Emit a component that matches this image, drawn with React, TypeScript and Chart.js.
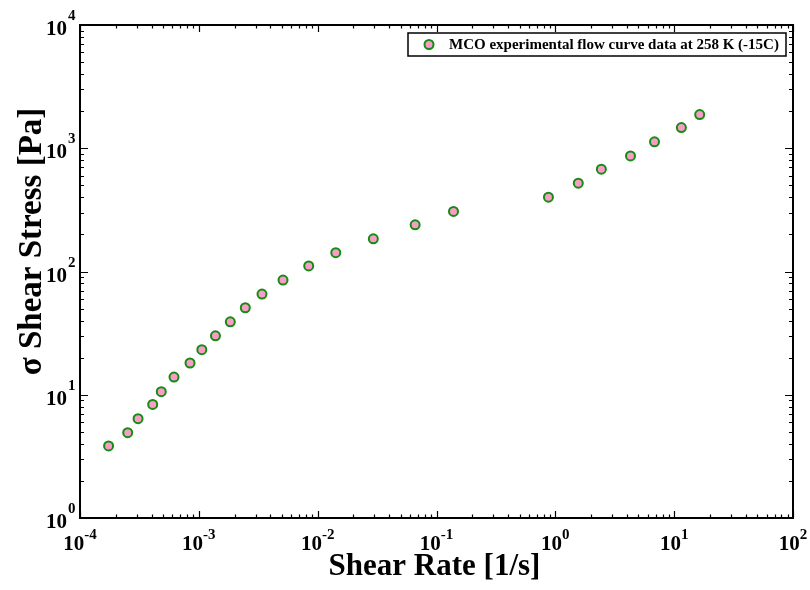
import React, { useEffect, useRef } from 'react';
import { Chart, registerables } from 'chart.js';

Chart.register(...registerables);

// ---- data ----
const shearRate = [
  1.74e-4, 2.52e-4, 3.08e-4, 4.09e-4, 4.83e-4, 6.18e-4, 8.43e-4, 1.06e-3, 1.38e-3,
  1.84e-3, 2.46e-3, 3.4e-3, 5.11e-3, 8.41e-3, 1.42e-2, 2.94e-2, 6.61e-2, 0.139,
  0.875, 1.56, 2.44, 4.29, 6.83, 11.5, 16.4,
];
const shearStress = [
  3.84, 4.92, 6.39, 8.34, 10.6, 13.9, 18.1, 23.2, 30.1, 39.1, 50.8, 65.6, 85.2, 111,
  142, 184, 239, 307, 401, 521, 677, 867, 1127, 1472, 1876,
];
const xTickExponents = [-4, -3, -2, -1, 0, 1, 2];
const yTickExponents = [0, 1, 2, 3, 4];
const seriesLabel = 'MCO experimental flow curve data at 258 K (-15C)';
const xTitle = 'Shear Rate [1/s]';
const yTitle = 'σ Shear Stress [Pa]';

const FONT = '"Liberation Serif", "DejaVu Serif", serif';
const FILL = '#f99cc6';
const EDGE = '#148c14';

const framePlugin = {
  id: 'frameTicks',
  beforeDatasetsDraw(chart: any) {
    const { ctx, chartArea: a, scales } = chart;
    const xs = scales.x;
    const ys = scales.y;
    ctx.save();
    ctx.strokeStyle = '#000';
    ctx.lineWidth = 1.2;
    for (let e = xTickExponents[0]; e <= xTickExponents[xTickExponents.length - 1]; e++) {
      for (let m = 1; m <= 9; m++) {
        const v = m * Math.pow(10, e);
        if (v > xs.max * 1.0001) continue;
        const px = Math.round(xs.getPixelForValue(v)) + 0.5;
        const len = m === 1 ? 7 : 3.5;
        ctx.beginPath();
        ctx.moveTo(px, a.bottom);
        ctx.lineTo(px, a.bottom - len);
        ctx.moveTo(px, a.top);
        ctx.lineTo(px, a.top + len);
        ctx.stroke();
      }
    }
    for (let e = yTickExponents[0]; e <= yTickExponents[yTickExponents.length - 1]; e++) {
      for (let m = 1; m <= 9; m++) {
        const v = m * Math.pow(10, e);
        if (v > ys.max * 1.0001) continue;
        const py = Math.round(ys.getPixelForValue(v)) + 0.5;
        const len = m === 1 ? 8 : 4;
        ctx.beginPath();
        ctx.moveTo(a.left, py);
        ctx.lineTo(a.left + len, py);
        ctx.moveTo(a.right, py);
        ctx.lineTo(a.right - len, py);
        ctx.stroke();
      }
    }
    ctx.lineWidth = 2;
    ctx.strokeRect(a.left, a.top, a.right - a.left, a.bottom - a.top);
    ctx.restore();
  },
  afterDraw(chart: any) {
    const { ctx, chartArea: a, scales } = chart;
    const xs = scales.x;
    const ys = scales.y;
    ctx.save();
    ctx.fillStyle = '#000';
    const big = `bold 21px ${FONT}`;
    const sup = `bold 15px ${FONT}`;
    yTickExponents.forEach((e) => {
      const py = ys.getPixelForValue(Math.pow(10, e));
      ctx.font = big;
      ctx.textAlign = 'right';
      ctx.textBaseline = 'alphabetic';
      ctx.fillText('10', a.left - 13, py + 10);
      ctx.font = sup;
      ctx.textAlign = 'left';
      ctx.fillText(String(e), a.left - 12, py - 5);
    });
    xTickExponents.forEach((e) => {
      const px = xs.getPixelForValue(Math.pow(10, e));
      ctx.font = big;
      const w10 = ctx.measureText('10').width;
      ctx.font = sup;
      const es = String(e);
      const we = ctx.measureText(es).width;
      const start = px - (w10 + we) / 2;
      ctx.textAlign = 'left';
      ctx.textBaseline = 'alphabetic';
      ctx.font = big;
      ctx.fillText('10', start, a.bottom + 32);
      ctx.font = sup;
      ctx.fillText(es, start + w10, a.bottom + 21);
    });
    ctx.textAlign = 'center';
    ctx.textBaseline = 'alphabetic';
    ctx.font = `bold 31px ${FONT}`;
    ctx.fillText(xTitle, (a.left + a.right) / 2 - 2, 575);
    ctx.save();
    ctx.font = `bold 33px ${FONT}`;
    ctx.translate(41, (a.top + a.bottom) / 2 - 30);
    ctx.rotate(-Math.PI / 2);
    ctx.fillText(yTitle, 0, 0);
    ctx.restore();
    // legend
    const bx = a.right - 385;
    const by = a.top + 8;
    const bw = 378;
    const bh = 23;
    ctx.fillStyle = '#fff';
    ctx.fillRect(bx, by, bw, bh);
    ctx.strokeStyle = '#000';
    ctx.lineWidth = 1.5;
    ctx.strokeRect(bx, by, bw, bh);
    ctx.beginPath();
    ctx.arc(bx + 21, by + bh / 2, 4.5, 0, Math.PI * 2);
    ctx.fillStyle = FILL;
    ctx.fill();
    ctx.lineWidth = 2;
    ctx.strokeStyle = EDGE;
    ctx.stroke();
    ctx.fillStyle = '#000';
    ctx.font = `bold 15px ${FONT}`;
    ctx.textAlign = 'left';
    ctx.textBaseline = 'middle';
    ctx.fillText(seriesLabel, bx + 41, by + bh / 2 + 0.5);
    ctx.restore();
  },
};

export default function App() {
  const ref = useRef<HTMLCanvasElement | null>(null);
  useEffect(() => {
    if (!ref.current) return;
    const chart = new Chart(ref.current, {
      type: 'scatter',
      data: {
        datasets: [
          {
            label: seriesLabel,
            data: shearRate.map((x, i) => ({ x, y: shearStress[i] })),
            backgroundColor: FILL,
            borderColor: EDGE,
            borderWidth: 2,
            pointRadius: 4.5,
            pointHoverRadius: 4.5,
          },
        ],
      },
      options: {
        responsive: false,
        animation: false,
        events: [],
        layout: { padding: { top: 25, right: 17, left: 0, bottom: 0 } },
        plugins: { legend: { display: false }, tooltip: { enabled: false } },
        scales: {
          x: {
            type: 'logarithmic',
            min: 1e-4,
            max: 1e2,
            grid: { display: false },
            border: { display: false },
            ticks: { display: false },
            afterFit: (s: any) => {
              s.height = 72;
            },
          },
          y: {
            type: 'logarithmic',
            min: 1,
            max: 1e4,
            grid: { display: false },
            border: { display: false },
            ticks: { display: false },
            afterFit: (s: any) => {
              s.width = 80;
            },
          },
        },
      },
      plugins: [framePlugin],
    });
    return () => chart.destroy();
  }, []);
  return (
    <div style={{ position: 'absolute', left: 0, top: 0, width: 810, height: 590, background: '#fff' }}>
      <canvas ref={ref} width={810} height={590} style={{ display: 'block' }} />
    </div>
  );
}
